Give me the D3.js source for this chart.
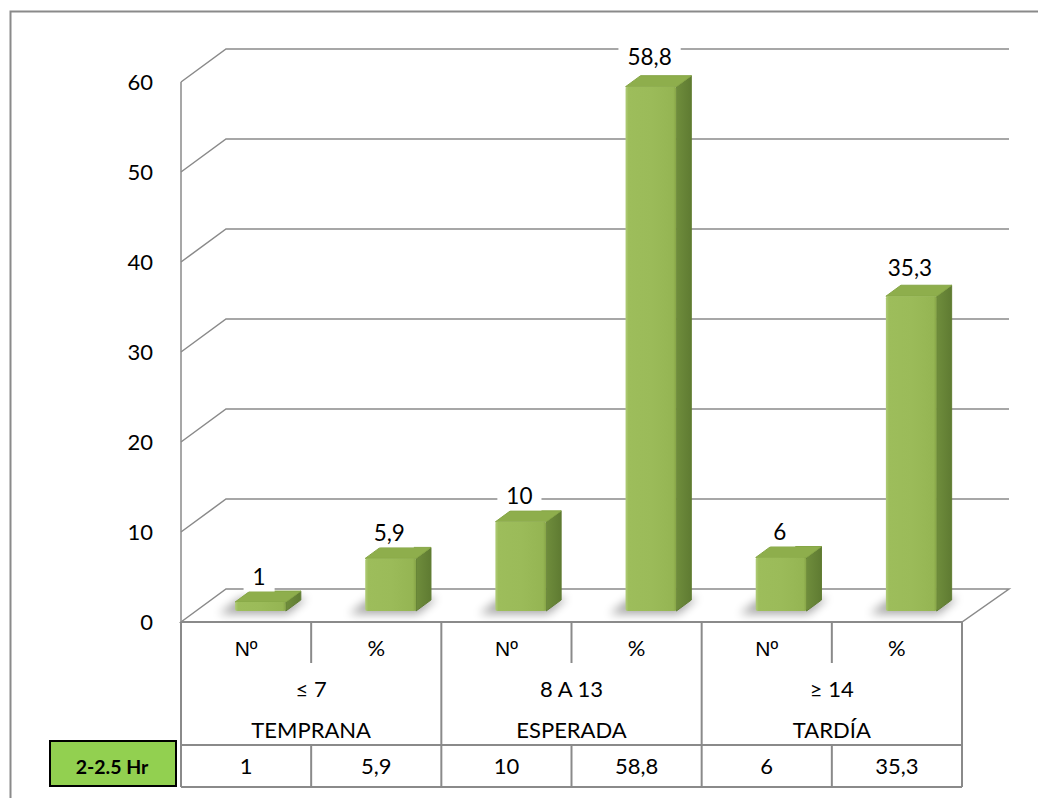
<!DOCTYPE html>
<html>
<head>
<meta charset="utf-8">
<script src="https://cdn.jsdelivr.net/npm/d3@7/dist/d3.min.js"></script>
<style>
  html, body { margin: 0; padding: 0; background: #fff; }
  svg { display: block; }
  text { font-family: Lato, "Open Sans", "DejaVu Sans", sans-serif; fill: #000; }
</style>
</head>
<body>
<svg id="chart" width="1038" height="798"></svg>
<script>
// Groups of time-to-event and their ranges (days)
const groups   = ["TEMPRANA", "ESPERADA", "TARDÍA"];
const ranges   = ["≤ 7", "8 A 13", "≥ 14"];
const measures = ["Nº", "%"];
// Series "2-2.5 Hr"
const seriesName = "2-2.5 Hr";
const counts   = [1, 10, 6];
const percents = [5.9, 58.8, 35.3];
const yTicks   = [0, 10, 20, 30, 40, 50, 60];

const fmt = d3.formatLocale({ decimal: ",", thousands: ".", grouping: [3], currency: ["", ""] });
const label = v => Number.isInteger(v) ? String(v) : fmt.format(".1f")(v);

// one slot per (group, measure)
const slots = [];
groups.forEach((g, gi) => {
  slots.push({ key: g + "|n", group: gi, measure: 0, value: counts[gi] });
  slots.push({ key: g + "|p", group: gi, measure: 1, value: percents[gi] });
});

const svg = d3.select("#chart");
const GRID = "#8a8a8a";

// plot frame: front plane and depth offset of the 3-D box
const x = d3.scaleBand().domain(slots.map(d => d.key)).range([181, 962]);
const y = d3.scaleLinear().domain([0, 60]).range([622, 82]);
const DX = 45, DY = -33;             // full depth of the floor
const zF = 1 / 3, zB = 2 / 3;        // bar front / back depth
// value scale on the plane of the bar fronts (slightly foreshortened)
const yBar = d3.scaleLinear().domain([0, 60]).range([611, 76]);

const defs = svg.append("defs");
const blur = defs.append("filter").attr("id", "soft").attr("x", "-50%").attr("y", "-50%")
  .attr("width", "200%").attr("height", "200%");
blur.append("feGaussianBlur").attr("stdDeviation", 5);

const gFront = defs.append("linearGradient").attr("id", "front").attr("x1", 0).attr("x2", 1).attr("y1", 0).attr("y2", 0);
[[0, "#b0cc78"], [0.06, "#9dbd5b"], [0.5, "#9bbb59"], [0.94, "#95b553"], [1, "#86a446"]]
  .forEach(([o, c]) => gFront.append("stop").attr("offset", o).attr("stop-color", c));
const gSide = defs.append("linearGradient").attr("id", "side").attr("x1", 0).attr("x2", 1).attr("y1", 0).attr("y2", 0);
[[0, "#6f8d3c"], [1, "#5f7b32"]]
  .forEach(([o, c]) => gSide.append("stop").attr("offset", o).attr("stop-color", c));

// outer frame
svg.append("path")
  .attr("d", "M10.5,798 V11.5 H1038")
  .attr("fill", "none").attr("stroke", GRID).attr("stroke-width", 2);

// floor
const x0 = x.range()[0], x1 = x.range()[1];
svg.append("path")
  .attr("d", `M${x0},${y(0)} L${x0 + DX},${y(0) + DY} L${x1 + DX + 2},${y(0) + DY} L${x1},${y(0)} Z`)
  .attr("fill", "#fff").attr("stroke", GRID).attr("stroke-width", 1.5);

// gridlines on the left wall and back wall
svg.append("g").selectAll("path").data(yTicks.filter(t => t > 0)).join("path")
  .attr("d", t => `M${x0},${y(t)} L${x0 + DX},${y(t) + DY} H${x1 + DX + 2}`)
  .attr("fill", "none").attr("stroke", GRID).attr("stroke-width", 1.5);

// left wall edge
svg.append("line")
  .attr("x1", x0).attr("x2", x0).attr("y1", y(60)).attr("y2", y(0))
  .attr("stroke", GRID).attr("stroke-width", 1.5);

// y-axis labels
svg.append("g").selectAll("text").data(yTicks).join("text")
  .attr("x", 153).attr("y", t => y(t)).attr("dy", "0.36em")
  .attr("text-anchor", "end").attr("font-size", 22)
  .text(t => t);

// bars
const bw = x.bandwidth();
const barL = d => x(d.key) + bw * 0.30;
const barR = d => x(d.key) + bw * 0.69;
const bx = v => v + DX * (zB - zF), by = v => v + DY * (zB - zF);
const sx = v => v + DX * zF;                                  // horizontal shift to the front plane

const bars = svg.append("g");
// soft shadow round the base
bars.selectAll("path.shadow").data(slots).join("path").attr("class", "shadow")
  .attr("d", d => {
    const l = sx(barL(d)), r = sx(barR(d)), b = yBar(0);
    return `M${l - 16},${b + 3} L${bx(l) - 10},${by(b) - 2} L${bx(r) + 6},${by(b) - 2} L${r + 2},${b + 3} Z`;
  })
  .attr("fill", "#000").attr("opacity", 0.35).attr("filter", "url(#soft)");

const bar = bars.selectAll("g.bar").data(slots).join("g").attr("class", "bar");
bar.append("path")
  .attr("d", d => {
    const r = sx(barR(d)), t = yBar(d.value), b = yBar(0);
    return `M${r},${t} L${bx(r)},${by(t)} L${bx(r)},${by(b)} L${r},${b} Z`;
  })
  .attr("fill", "url(#side)").attr("stroke", "#617d34").attr("stroke-width", 1).attr("stroke-linejoin", "round");
bar.append("path")
  .attr("d", d => {
    const l = sx(barL(d)), r = sx(barR(d)), t = yBar(d.value);
    return `M${l},${t} L${bx(l)},${by(t)} L${bx(r)},${by(t)} L${r},${t} Z`;
  })
  .attr("fill", "#8eae4c").attr("stroke", "#86a646").attr("stroke-width", 1).attr("stroke-linejoin", "round");
bar.append("rect")
  .attr("x", d => sx(barL(d))).attr("y", d => yBar(d.value))
  .attr("width", d => barR(d) - barL(d)).attr("height", d => yBar(0) - yBar(d.value))
  .attr("rx", 2).attr("fill", "url(#front)");

// value labels on white boxes
const lab = svg.append("g").selectAll("g").data(slots).join("g")
  .attr("transform", d => `translate(${x(d.key) + bw / 2 + 13},${y(d.value) - 36})`);
lab.append("text")
  .attr("text-anchor", "middle").attr("dy", "0.36em").attr("font-size", 22.5)
  .text(d => label(d.value))
  .each(function () {
    const b = this.getBBox();
    d3.select(this.parentNode).insert("rect", "text")
      .attr("x", b.x - 9).attr("y", -14.5).attr("width", b.width + 18).attr("height", 29)
      .attr("fill", "#fff");
  });

// data table under the plot
const T = { top: 622, split: 663, mid: 745, bottom: 787 };
const table = svg.append("g").attr("stroke", GRID).attr("stroke-width", 2);
table.append("line").attr("x1", x0).attr("x2", x1).attr("y1", T.top).attr("y2", T.top);
table.append("line").attr("x1", x0).attr("x2", x1).attr("y1", T.mid).attr("y2", T.mid);
table.append("line").attr("x1", x0).attr("x2", x1).attr("y1", T.bottom).attr("y2", T.bottom);
// group boundaries run the full height
table.selectAll("line.gb").data(d3.range(groups.length + 1)).join("line").attr("class", "gb")
  .attr("x1", i => x0 + i * 2 * bw).attr("x2", i => x0 + i * 2 * bw)
  .attr("y1", T.top).attr("y2", T.bottom);
// measure dividers in the header row and the value row
groups.forEach((g, gi) => {
  const xm = x(g + "|p");
  table.append("line").attr("x1", xm).attr("x2", xm).attr("y1", T.top).attr("y2", T.split);
  table.append("line").attr("x1", xm).attr("x2", xm).attr("y1", T.mid).attr("y2", T.bottom);
});

const txt = svg.append("g").attr("font-size", 22).attr("text-anchor", "middle");
txt.selectAll("text.m").data(slots).join("text").attr("class", "m")
  .attr("x", d => x(d.key) + bw / 2).attr("y", 648).attr("dy", "0.36em")
  .style("font-family", d => d.measure === 0 ? "'Liberation Sans', Arial, sans-serif" : null)
  .style("font-size", d => d.measure === 0 ? "21px" : null)
  .text(d => measures[d.measure]);
txt.selectAll("text.r").data(groups).join("text").attr("class", "r")
  .attr("x", (g, i) => x0 + (i + 0.5) * 2 * bw).attr("y", 689).attr("dy", "0.36em")
  .text((g, i) => ranges[i]);
txt.selectAll("text.g").data(groups).join("text").attr("class", "g")
  .attr("x", (g, i) => x0 + (i + 0.5) * 2 * bw).attr("y", 730).attr("dy", "0.36em")
  .text(g => g);
txt.selectAll("text.v").data(slots).join("text").attr("class", "v")
  .attr("x", d => x(d.key) + bw / 2).attr("y", 766).attr("dy", "0.36em")
  .text(d => label(d.value));

// series key
svg.append("rect").attr("x", 50).attr("y", 741).attr("width", 126).attr("height", 45)
  .attr("fill", "#92d050").attr("stroke", "#000").attr("stroke-width", 2);
svg.append("text").attr("x", 112).attr("y", 767).attr("dy", "0.36em")
  .attr("text-anchor", "middle").attr("font-size", 19.5).attr("font-weight", "bold")
  .text(seriesName);
</script>
</body>
</html>
